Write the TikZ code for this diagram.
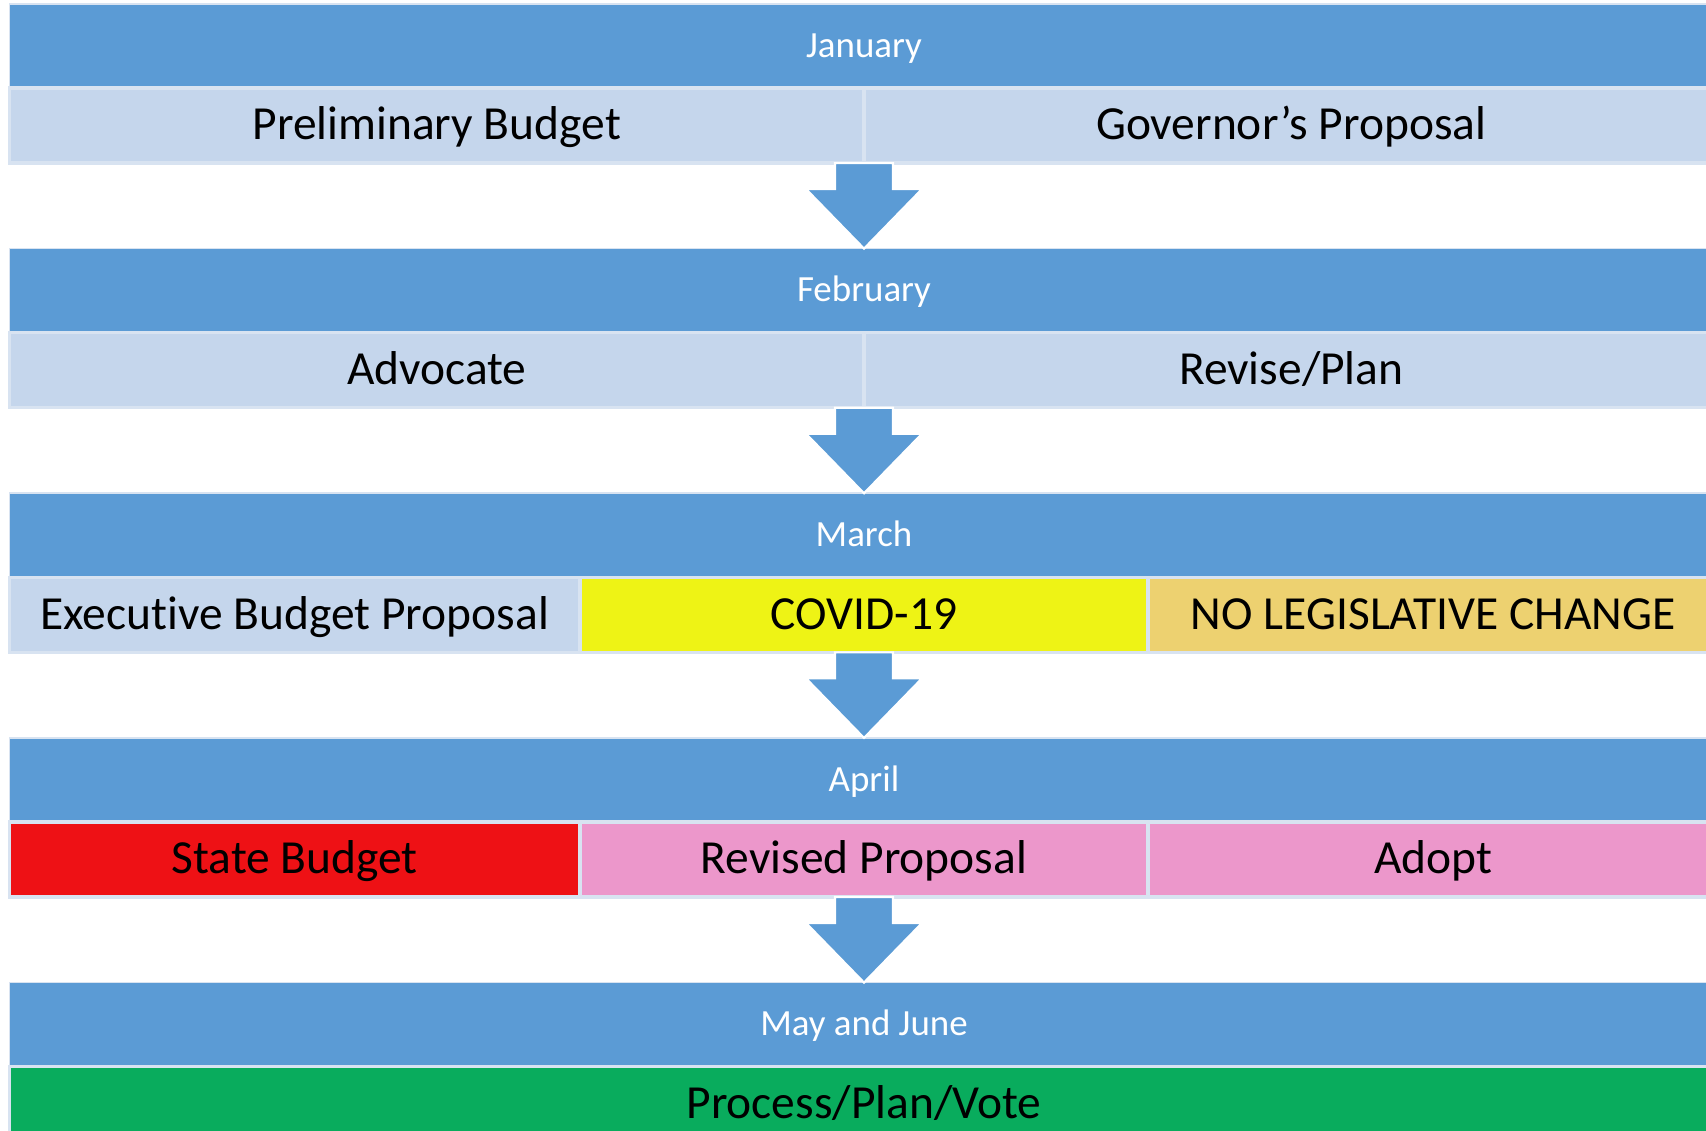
\documentclass[tikz,border=0pt]{standalone}
\usepackage{fontspec}
\setmainfont{Carlito}[Ligatures=NoCommon]
\usetikzlibrary{positioning,calc}

\definecolor{bandblue}{RGB}{91,155,213}
\definecolor{rowblue}{RGB}{197,214,236}
\definecolor{celledge}{RGB}{216,227,241}
\definecolor{covidyellow}{RGB}{238,243,21}
\definecolor{goldrow}{RGB}{237,209,112}
\definecolor{budgetred}{RGB}{238,17,21}
\definecolor{pinkrow}{RGB}{236,151,203}
\definecolor{votegreen}{RGB}{9,172,93}

\begin{document}
\begin{tikzpicture}[x=0.01cm, y=-0.01cm,
  month/.style={fill=bandblue, draw=celledge, line width=0.5pt, text=white,
    minimum width=17.08cm, minimum height=0.84cm, inner sep=0pt, outer sep=0pt,
    font=\fontsize{10.5}{12}\selectfont, text height=0.64em, text depth=0pt},
  cell/.style={draw=celledge, line width=1pt, minimum height=0.75cm,
    inner sep=0pt, outer sep=0pt,
    font=\fontsize{13.5}{16}\selectfont, text height=0.82em, text depth=0pt},
  half/.style={cell, fill=rowblue, minimum width=8.54cm},
  third/.style={cell, minimum width=5.70cm},
  flow/.style={fill=bandblue, draw=white, line width=0.6pt}]

\useasboundingbox (0,0) rectangle (1706,1131);
\clip (0,0) rectangle (1706,1131);

% January
\node[month] (jan) at (864,46) {January};
\node[half, below right=0pt and 0pt of jan.south west] (prelim) {Preliminary Budget};
\node[half, right=0pt of prelim] (gov) {Governor’s Proposal};

% February
\node[month, below=0.855cm of prelim.south east] (feb) {February};
\node[half, below right=0pt and 0pt of feb.south west] (advocate) {Advocate};
\node[half, right=0pt of advocate] (revise) {Revise/Plan};

% March
\node[month, below=0.855cm of advocate.south east] (mar) {March};
\node[third, fill=rowblue, below right=0pt and 0pt of mar.south west] (exec) {Executive Budget Proposal};
\node[third, fill=covidyellow, minimum width=5.68cm, right=0pt of exec] (covid) {COVID-19};
\node[third, fill=goldrow, right=0pt of covid] (nochange) {NO LEGISLATIVE CHANGE};

% April
\node[month, below=0.855cm of covid] (apr) {April};
\node[third, fill=budgetred, below right=0pt and 0pt of apr.south west] (state) {State Budget};
\node[third, fill=pinkrow, minimum width=5.68cm, right=0pt of state] (revised) {Revised Proposal};
\node[third, fill=pinkrow, right=0pt of revised] (adopt) {Adopt};

% May and June
\node[month, below=0.855cm of revised] (may) {May and June};
\node[cell, fill=votegreen, minimum width=17.08cm, below=0pt of may] (vote) {Process/Plan/Vote};

% block arrows from each row down to the next month
\foreach \s/\t in {prelim.south east/feb, advocate.south east/mar, covid.south/apr, revised.south/may} {
  \path (\s) coordinate (top) (\t.north) coordinate (tip);
  \filldraw[flow] ($(top)+(-29,0)$) -- ($(top)+(-29,26)$) -- ($(top)+(-58,26)$) -- (tip)
    -- ($(top)+(58,26)$) -- ($(top)+(29,26)$) -- ($(top)+(29,0)$) -- cycle;
}
\end{tikzpicture}
\end{document}
